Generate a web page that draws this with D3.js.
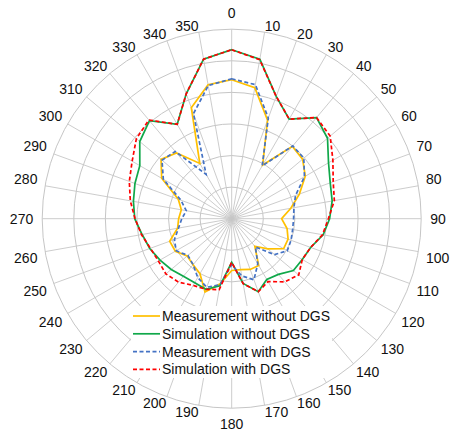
<!DOCTYPE html>
<html><head><meta charset="utf-8">
<script src="https://cdn.jsdelivr.net/npm/d3@7/dist/d3.min.js"></script>
<style>body{margin:0;background:#fff}svg{display:block}</style>
</head><body>
<svg id="c" width="454" height="437"></svg>
<script>
// angle categories (degrees, clockwise from top)
const angles = [0,10,20,30,40,50,60,70,80,90,100,110,120,130,140,150,160,170,
                180,190,200,210,220,230,240,250,260,270,280,290,300,310,320,330,340,350];
// values in dB (outer ring = 0 dB, centre = -30 dB)
const measNoDGS = [-8.0,-8.95,-13.4,-20.2,-15.05,-15.35,-16.55,-18.6,-20.5,-22.1,-21.1,-20.5,
                   -20.5,-22.55,-24.3,-21.45,-21.45,-21.8,-21.8,-19.55,-17.65,-19.95,-20.5,-20.8,
                   -19.7,-19.55,-21.3,-21.6,-21.9,-21.0,-17.2,-15.4,-16.4,-19.9,-11.3,-8.45];
const simNoDGS  = [-3.25,-4.35,-9.4,-11.8,-9.1,-10.2,-12.3,-13.4,-13.85,-14.5,-15.3,-16.7,
                   -17.1,-17.25,-18.5,-18.9,-17.7,-19.6,-23.1,-19.2,-18.1,-18.3,-18.1,-17.5,
                   -16.9,-16.2,-15.6,-14.65,-14.2,-13.7,-13.2,-11.0,-9.75,-12.75,-8.95,-4.35];
const measDGS   = [-7.85,-8.45,-13.05,-20.35,-14.95,-15.1,-16.7,-19.25,-20.0,-20.2,-20.2,-20.0,
                   -19.85,-21.15,-24.15,-21.75,-19.7,-20.8,-22.7,-19.4,-18.45,-19.25,-20.5,-20.95,
                   -19.85,-20.35,-21.45,-22.1,-22.7,-21.45,-17.5,-15.6,-16.1,-21.9,-12.3,-8.6];
const simDGS    = [-3.25,-4.45,-9.4,-11.8,-9.1,-9.65,-11.5,-12.9,-13.5,-14.7,-15.4,-16.7,
                   -17.1,-16.15,-16.95,-18.5,-17.7,-19.55,-23.1,-18.6,-18.1,-17.8,-16.9,-16.4,
                   -16.6,-16.3,-15.5,-14.7,-13.7,-12.75,-11.8,-10.3,-9.6,-12.75,-8.95,-4.35];
const ringTicks = [-25,-20,-15,-10,-5,0];
const seriesNames = ["Measurement without DGS","Simulation without DGS","Measurement with DGS","Simulation with DGS"];
const seriesColors = ["#ffc000","#10a84a","#4472c4","#ff0000"];
const seriesDash = [null,null,"4,2.5","4,2.5"];

const cx = 231.7, cy = 218.7, R = 189.5;
const FONT = "'Liberation Sans', Arial, Helvetica, sans-serif";
const svg = d3.select('#c');
const r = d3.scaleLinear().domain([-30,0]).range([0,R]);
const a = d3.scaleLinear().domain([0,360]).range([0,2*Math.PI]);
const g = svg.append('g').attr('transform',`translate(${cx},${cy})`);

// grid rings
g.selectAll('circle.ring').data(ringTicks).join('circle')
  .attr('class','ring').attr('r',d=>r(d)).attr('fill','none')
  .attr('stroke','#c6c6c6').attr('stroke-width',1);
// spokes
g.selectAll('line.spoke').data(angles).join('line')
  .attr('class','spoke')
  .attr('x1',0).attr('y1',0)
  .attr('x2',d=>R*Math.sin(a(d))).attr('y2',d=>-R*Math.cos(a(d)))
  .attr('stroke','#c6c6c6').attr('stroke-width',0.9);

// angle labels
const capH = 10;
g.selectAll('text.alab').data(angles).join('text')
  .attr('class','alab')
  .attr('font-family',FONT).attr('font-size',14).attr('fill','#111')
  .attr('text-anchor','middle')
  .text(d=>d)
  .each(function(d){
    const t = a(d), s = Math.sin(t), c = Math.cos(t);
    const w = this.getComputedTextLength();
    const ax = Math.abs(s) < 1e-6, ay = Math.abs(c) < 1e-6;
    let pad;
    if (ax) pad = 11; else if (ay) pad = 9; else pad = 1 + 7*s*s;
    const px = (R+pad)*s, py = -(R+pad)*c;
    const sx = ax ? 0 : Math.sign(s), sy = ay ? 0 : Math.sign(c);
    const mx = px + sx*w/2, my = py - sy*capH/2;
    d3.select(this).attr('x',mx).attr('y',my + capH/2);
  });

// series
const series = [measNoDGS, simNoDGS, measDGS, simDGS];
const line = d3.lineRadial().angle((d,i)=>a(angles[i])).radius(d=>r(d)).curve(d3.curveLinearClosed);
series.forEach((vals,k)=>{
  g.append('path').datum(vals).attr('d',line)
    .attr('fill','none').attr('stroke',seriesColors[k]).attr('stroke-width',1.7)
    .attr('stroke-linejoin','miter')
    .attr('stroke-dasharray',seriesDash[k]);
});

// legend
const lg = svg.append('g');
lg.append('rect').attr('x',131).attr('y',306).attr('width',201).attr('height',72).attr('fill','#fff');
const rowY = d3.scaleLinear().domain([0,3]).range([316,369.4]);
seriesNames.forEach((n,k)=>{
  const y = rowY(k);
  lg.append('line').attr('x1',133).attr('x2',160).attr('y1',y).attr('y2',y)
    .attr('stroke',seriesColors[k]).attr('stroke-width',1.7).attr('stroke-dasharray',seriesDash[k]);
  lg.append('text').attr('x',162).attr('y',y+5).attr('font-family',FONT).attr('font-size',14)
    .attr('fill','#111').text(n);
});
</script>
</body></html>
